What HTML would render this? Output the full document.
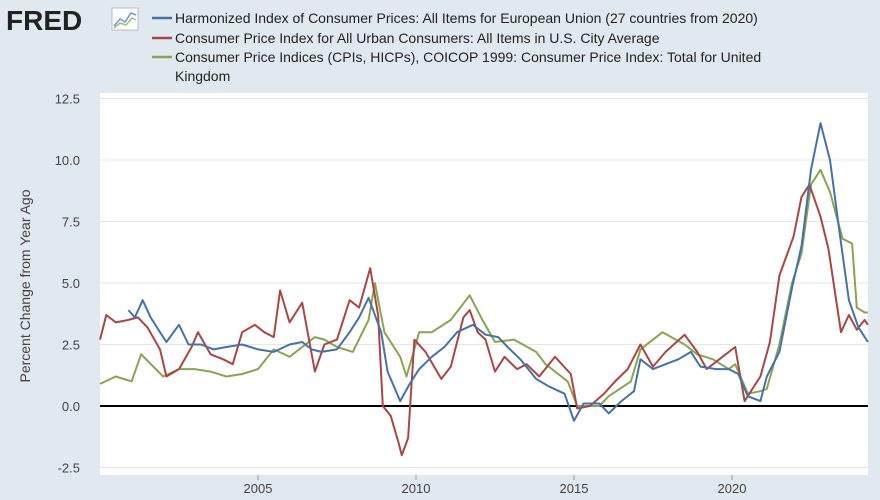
<!DOCTYPE html>
<html><head><meta charset="utf-8">
<style>
body{margin:0;width:880px;height:500px;background:#e1e9f0;font-family:"Liberation Sans",sans-serif;overflow:hidden}
svg{position:absolute;left:0;top:0}
</style></head>
<body>
<svg width="880" height="500">
  <g>
    <text x="6" y="30" font-size="28" font-weight="bold" fill="#222">FRED</text>
    <rect x="112" y="8" width="26" height="22" fill="#fff" stroke="#bbb"/>
    <polyline points="114,26 120,19 125,22 131,13 136,15" fill="none" stroke="#6a9bd0" stroke-width="1.5"/>
    <polyline points="114,28 120,23 126,25 132,18 136,20" fill="none" stroke="#9bc07a" stroke-width="1.5"/>
  </g>
  <g font-size="14" fill="#222">
    <line x1="152" y1="18" x2="172" y2="18" stroke="#4572a7" stroke-width="2.5"/>
    <text x="175" y="23">Harmonized Index of Consumer Prices: All Items for European Union (27 countries from 2020)</text>
    <line x1="152" y1="38" x2="172" y2="38" stroke="#aa4643" stroke-width="2.5"/>
    <text x="175" y="43">Consumer Price Index for All Urban Consumers: All Items in U.S. City Average</text>
    <line x1="152" y1="57" x2="172" y2="57" stroke="#89a54e" stroke-width="2.5"/>
    <text x="175" y="62">Consumer Price Indices (CPIs, HICPs), COICOP 1999: Consumer Price Index: Total for United</text>
    <text x="175" y="81">Kingdom</text>
  </g>
  <rect x="100" y="93" width="768" height="382" fill="#fff"/>
  <g id="grid"></g>
  <g id="series"></g>
  <g id="axes"></g>
  <text transform="translate(30,286) rotate(-90)" text-anchor="middle" font-size="14" fill="#444">Percent Change from Year Ago</text>
</svg>
<script>
const yTicks=[-2.5,0,2.5,5,7.5,10,12.5];
const yTickLabels=["-2.5","0.0","2.5","5.0","7.5","10.0","12.5"];
const xTicks=[2005,2010,2015,2020];
const euDates=[2000.9,2001.1,2001.35,2001.6,2001.9,2002.1,2002.5,2002.8,2003.2,2003.6,2004.0,2004.5,2005.0,2005.5,2006.0,2006.4,2006.7,2007.0,2007.5,2007.9,2008.2,2008.5,2008.9,2009.1,2009.5,2009.8,2010.1,2010.5,2010.9,2011.3,2011.8,2012.2,2012.6,2012.9,2013.3,2013.8,2014.2,2014.7,2015.0,2015.3,2015.8,2016.1,2016.5,2016.9,2017.1,2017.5,2017.9,2018.3,2018.7,2019.0,2019.5,2019.9,2020.2,2020.5,2020.9,2021.1,2021.5,2021.9,2022.2,2022.5,2022.8,2023.1,2023.4,2023.7,2024.0,2024.3];
const euVals=[3.9,3.6,4.3,3.6,3.0,2.6,3.3,2.5,2.5,2.3,2.4,2.5,2.3,2.2,2.5,2.6,2.3,2.2,2.3,3.0,3.6,4.4,3.0,1.4,0.2,0.9,1.5,2.0,2.4,3.0,3.3,2.9,2.8,2.4,1.9,1.1,0.8,0.5,-0.6,0.1,0.1,-0.3,0.2,0.6,1.9,1.5,1.7,1.9,2.2,1.6,1.5,1.5,1.3,0.4,0.2,1.2,2.2,4.8,6.5,9.6,11.5,10.0,7.1,4.3,3.2,2.6];
const usDates=[2000.0,2000.2,2000.5,2000.9,2001.2,2001.5,2001.9,2002.1,2002.5,2002.9,2003.1,2003.5,2003.9,2004.2,2004.5,2004.9,2005.2,2005.5,2005.7,2006.0,2006.4,2006.8,2007.1,2007.5,2007.9,2008.2,2008.55,2008.8,2008.95,2009.2,2009.45,2009.55,2009.75,2009.95,2010.3,2010.8,2011.1,2011.5,2011.7,2011.95,2012.2,2012.5,2012.8,2013.2,2013.5,2013.9,2014.4,2014.9,2015.1,2015.5,2015.95,2016.3,2016.7,2017.1,2017.5,2017.9,2018.5,2018.9,2019.2,2019.5,2020.1,2020.4,2020.9,2021.2,2021.5,2021.95,2022.2,2022.45,2022.8,2023.05,2023.45,2023.7,2023.95,2024.2,2024.3];
const usVals=[2.7,3.7,3.4,3.5,3.6,3.2,2.3,1.2,1.5,2.4,3.0,2.1,1.9,1.7,3.0,3.3,3.0,2.8,4.7,3.4,4.2,1.4,2.5,2.7,4.3,4.0,5.6,3.7,0.0,-0.4,-1.5,-2.0,-1.3,2.7,2.2,1.1,1.6,3.6,3.9,3.0,2.7,1.4,2.0,1.5,1.7,1.2,2.0,1.3,-0.1,0.0,0.5,1.0,1.5,2.5,1.6,2.2,2.9,2.2,1.5,1.8,2.4,0.2,1.2,2.6,5.3,6.9,8.5,9.0,7.7,6.4,3.0,3.7,3.1,3.5,3.3];
const ukDates=[2000.0,2000.5,2001.0,2001.3,2002.0,2002.5,2003.0,2003.5,2004.0,2004.5,2005.0,2005.5,2006.0,2006.5,2006.8,2007.1,2007.5,2008.0,2008.5,2008.7,2009.0,2009.5,2009.7,2010.1,2010.5,2011.1,2011.7,2012.1,2012.5,2013.1,2013.8,2014.1,2014.8,2015.1,2015.8,2016.1,2016.8,2017.1,2017.8,2018.5,2018.9,2019.4,2019.9,2020.1,2020.5,2020.9,2021.1,2021.5,2021.9,2022.2,2022.5,2022.8,2023.1,2023.5,2023.8,2023.95,2024.2,2024.3];
const ukVals=[0.9,1.2,1.0,2.1,1.2,1.5,1.5,1.4,1.2,1.3,1.5,2.3,2.0,2.5,2.8,2.7,2.4,2.2,3.5,5.0,3.0,2.0,1.2,3.0,3.0,3.5,4.5,3.5,2.6,2.7,2.2,1.7,1.0,0.0,0.0,0.4,1.0,2.3,3.0,2.5,2.1,1.9,1.5,1.7,0.5,0.6,0.7,2.5,5.0,6.2,9.0,9.6,8.7,6.8,6.6,4.0,3.8,3.8];

const X0=100,X1=868,Y0=406,PX=31.6,PY=24.6;
const xs=d=>X0+(d-2000)*PX;
const ys=v=>Y0-v*PY;
const NS="http://www.w3.org/2000/svg";
const grid=document.getElementById('grid'),axes=document.getElementById('axes'),series=document.getElementById('series');
yTicks.forEach((t,i)=>{
  const l=document.createElementNS(NS,'line');
  l.setAttribute('x1',X0);l.setAttribute('x2',X1);l.setAttribute('y1',ys(t));l.setAttribute('y2',ys(t));
  l.setAttribute('stroke',t===0?'#000':'#e6e6e6');l.setAttribute('stroke-width',t===0?2:1);
  
  
  grid.appendChild(l);
  const tx=document.createElementNS(NS,'text');
  tx.setAttribute('x',80);tx.setAttribute('y',ys(t)+5);tx.setAttribute('text-anchor','end');
  tx.setAttribute('font-size','13');tx.setAttribute('fill','#444');tx.textContent=yTickLabels[i];
  
  
  axes.appendChild(tx);
});
xTicks.forEach(t=>{
  const tx=document.createElementNS(NS,'text');
  tx.setAttribute('x',xs(t));tx.setAttribute('y',493);tx.setAttribute('text-anchor','middle');
  tx.setAttribute('font-size','13');tx.setAttribute('fill','#444');tx.textContent=t;
  
  
  axes.appendChild(tx);
  const tk=document.createElementNS(NS,'line');
  tk.setAttribute('x1',xs(t));tk.setAttribute('x2',xs(t));tk.setAttribute('y1',475);tk.setAttribute('y2',480);
  tk.setAttribute('stroke','#999');
  
  
  axes.appendChild(tk);
});
function draw(dates,vals,color,name){
  const p=document.createElementNS(NS,'polyline');
  p.setAttribute('points',dates.map((d,i)=>xs(d).toFixed(1)+','+ys(vals[i]).toFixed(1)).join(' '));
  p.setAttribute('fill','none');p.setAttribute('stroke',color);p.setAttribute('stroke-width','2');
  p.setAttribute('stroke-linejoin','round');
  
  
  series.appendChild(p);
}
draw(ukDates,ukVals,'#89a54e','series-uk');
draw(usDates,usVals,'#aa4643','series-us');
draw(euDates,euVals,'#4572a7','series-eu');
</script>
</body></html>
